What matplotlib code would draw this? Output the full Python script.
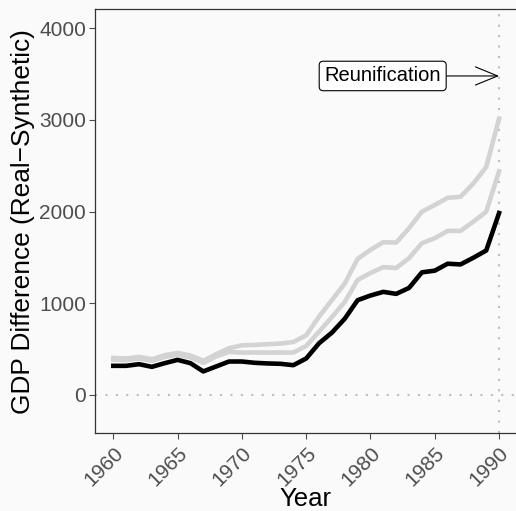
import matplotlib
matplotlib.use("Agg")
import matplotlib.pyplot as plt

years = list(range(1960, 1991))

# Real minus synthetic GDP for West Germany
gdp_gap = [318, 318, 336, 307, 347, 383, 347, 257, 311, 365, 365, 351, 344, 340, 325,
           398, 564, 680, 832, 1034, 1085, 1125, 1103, 1168, 1338, 1356, 1432, 1424,
           1497, 1576, 1985]

# Placebo / alternative specifications
alt_high = [405, 398, 416, 390, 434, 459, 430, 372, 445, 510, 542, 546, 554, 561, 578,
            651, 855, 1035, 1215, 1485, 1583, 1667, 1663, 1819, 1999, 2072, 2151, 2162,
            2307, 2487, 3015]
alt_mid = [385, 380, 398, 372, 415, 440, 410, 350, 420, 470, 463, 463, 463, 463, 463,
           535, 690, 850, 1015, 1255, 1330, 1395, 1385, 1493, 1656, 1710, 1790, 1790,
           1890, 1999, 2440]

xticks = [1960, 1965, 1970, 1975, 1980, 1985, 1990]
yticks = [0, 1000, 2000, 3000, 4000]
event_year = 1990
event_label = "Reunification"

plt.rcParams['font.family'] = ['Liberation Sans', 'DejaVu Sans']

bg = "#fafafa"
fig = plt.figure(figsize=(5.16, 5.11), dpi=100, facecolor=bg)
ax = fig.add_axes([94.5 / 516, 1 - 433.3 / 511, 1 - 94.5 / 516, (433.3 - 9.5) / 511])
ax.set_facecolor(bg)

ax.axhline(0, color="#bdbdbd", lw=1.5, ls=(0, (1, 4)), zorder=1)
ax.axvline(event_year, color="#bdbdbd", lw=1.5, ls=(0, (1, 4)), zorder=1)

ax.plot(years, alt_high, color="#d3d3d3", lw=3.3, solid_joinstyle="round", zorder=2)
ax.plot(years, alt_mid, color="#d3d3d3", lw=3.3, solid_joinstyle="round", zorder=2)
ax.plot(years, gdp_gap, color="black", lw=3.3, solid_joinstyle="round", zorder=3)

ax.annotate(event_label, xy=(event_year, 3480), xytext=(1980.95, 3480),
            ha="center", va="center", fontsize=14.5, color="black",
            bbox=dict(boxstyle="round,pad=0.26,rounding_size=0.2", fc="white", ec="black", lw=0.8),
            arrowprops=dict(arrowstyle="->,head_length=1.1,head_width=0.45", color="black", lw=0.8,
                            shrinkA=0, shrinkB=0),
            zorder=4)

ax.set_xlim(1958.54, 1958.54 + (516 - 94.5) / 12.86)
ax.set_ylim(-418, 4205)
ax.set_xticks(xticks)
ax.set_yticks(yticks)
ax.set_xticklabels([str(t) for t in xticks], rotation=45, ha="right", va="top",
                   rotation_mode="anchor")
ax.tick_params(axis="both", colors="#4d4d4d", labelsize=15, length=4, width=0.8,
               direction="out")
ax.tick_params(axis="x", pad=3)
ax.tick_params(axis="y", pad=2)
for side in ["left", "top", "bottom"]:
    ax.spines[side].set_color("#333333")
    ax.spines[side].set_linewidth(0.9)
ax.spines["right"].set_visible(False)

ax.set_xlabel("Year", fontsize=18.5, color="black", labelpad=-2)
ax.set_ylabel("GDP Difference (Real\u2212Synthetic)", fontsize=18.9, color="black", labelpad=3)

fig.savefig("out.png", dpi=100, facecolor=bg)
